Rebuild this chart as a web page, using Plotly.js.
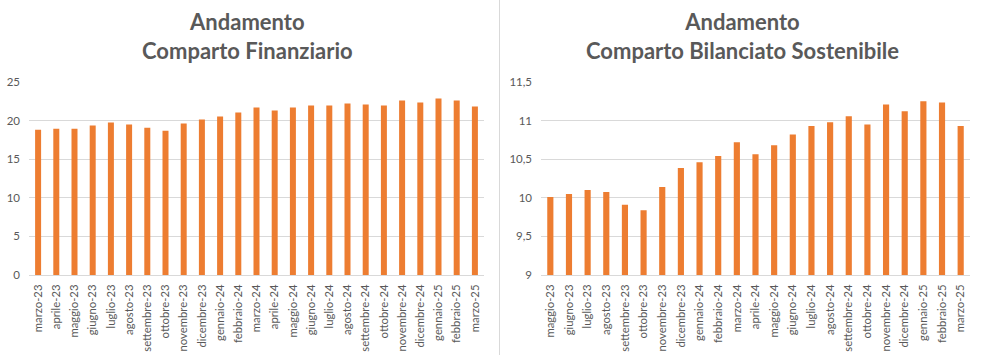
<!DOCTYPE html>
<html>
<head>
<meta charset="utf-8">
<script src="https://cdn.plot.ly/plotly-3.0.1.min.js"></script>
<style>html,body{margin:0;padding:0;background:#fff;}#chart{width:984px;height:355px;}</style>
</head>
<body>
<div id="chart"></div>
<script>
const mesiFin = ["marzo-23","aprile-23","maggio-23","giugno-23","luglio-23","agosto-23","settembre-23","ottobre-23","novembre-23","dicembre-23","gennaio-24","febbraio-24","marzo-24","aprile-24","maggio-24","giugno-24","luglio-24","agosto-24","settembre-24","ottobre-24","novembre-24","dicembre-24","gennaio-25","febbraio-25","marzo-25"];
const valoriFin = [18.83,18.96,18.96,19.35,19.74,19.48,19.09,18.70,19.61,20.13,20.52,21.04,21.69,21.30,21.69,21.95,21.95,22.20,22.08,21.95,22.60,22.34,22.86,22.60,21.82];
const mesiBil = ["maggio-23","giugno-23","luglio-23","agosto-23","settembre-23","ottobre-23","novembre-23","dicembre-23","gennaio-24","febbraio-24","marzo-24","aprile-24","maggio-24","giugno-24","luglio-24","agosto-24","settembre-24","ottobre-24","novembre-24","dicembre-24","gennaio-25","febbraio-25","marzo-25"];
const valoriBil = [10.01,10.05,10.10,10.075,9.91,9.84,10.14,10.385,10.46,10.54,10.72,10.565,10.68,10.82,10.93,10.98,11.055,10.95,11.21,11.12,11.25,11.235,10.93];
const titoloFin = "Andamento<br>Comparto Finanziario";
const titoloBil = "Andamento<br>Comparto Bilanciato Sostenibile";

const W = 984, H = 355;
const bar = '#ED7D31', grid = '#d9d9d9', txt = '#595959';
const fontFam = 'Lato, "Open Sans", sans-serif';
const yb = (H - 275) / H, yt = (H - 82) / H;

const traces = [
  {type:'bar', x:mesiFin, y:valoriFin, xaxis:'x', yaxis:'y', marker:{color:bar}, hoverinfo:'x+y'},
  {type:'bar', x:mesiBil, y:valoriBil, xaxis:'x2', yaxis:'y2', marker:{color:bar}, hoverinfo:'x+y'}
];
const xcommon = {type:'category', tickangle:-90, tickfont:{family:fontFam, size:11.3, color:txt}, showgrid:false, showline:true, linecolor:grid, linewidth:1, ticks:'', ticklabelstandoff:4, fixedrange:true};
const ycommon = {tickfont:{family:fontFam, size:11.5, color:txt}, showgrid:true, gridcolor:grid, gridwidth:1, zeroline:false, showline:false, ticks:'', ticklabelstandoff:8, fixedrange:true};

const layout = {
  width:W, height:H, margin:{l:0,r:0,t:0,b:0},
  paper_bgcolor:'#fff', plot_bgcolor:'#fff', showlegend:false,
  separators:',.', bargap:0.67,
  xaxis: Object.assign({}, xcommon, {domain:[29/W, 484/W], anchor:'y'}),
  yaxis: Object.assign({}, ycommon, {domain:[yb, yt], range:[0,25], dtick:5, anchor:'x'}),
  xaxis2: Object.assign({}, xcommon, {domain:[541/W, 970/W], anchor:'y2'}),
  yaxis2: Object.assign({}, ycommon, {domain:[yb, yt], range:[9,11.5], dtick:0.5, anchor:'x2'}),
  annotations:[
    {text:titoloFin, xref:'paper', yref:'paper', x:248/W, y:1-6/H, xanchor:'center', yanchor:'top', showarrow:false, align:'center', font:{family:fontFam, size:22, color:txt, weight:'bold'}},
    {text:titoloBil, xref:'paper', yref:'paper', x:742/W, y:1-6/H, xanchor:'center', yanchor:'top', showarrow:false, align:'center', font:{family:fontFam, size:22, color:txt, weight:'bold'}}
  ],
  shapes:[
    {type:'line', xref:'paper', yref:'paper', x0:499.5/W, x1:499.5/W, y0:0, y1:1, line:{color:grid, width:1}}
  ]
};
Plotly.newPlot('chart', traces, layout, {displayModeBar:false, staticPlot:true});
</script>
</body>
</html>
